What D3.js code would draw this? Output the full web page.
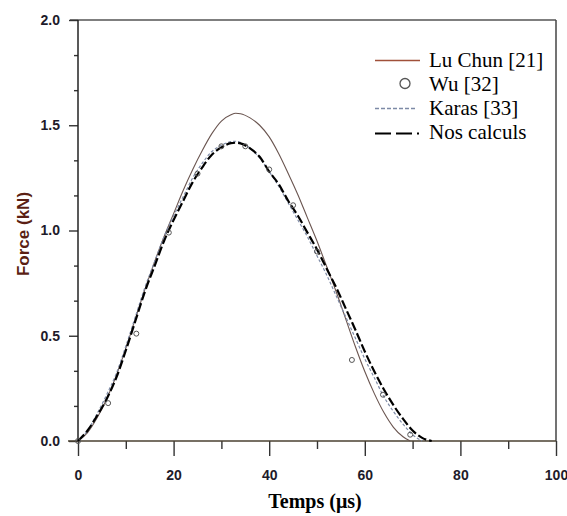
<!DOCTYPE html>
<html>
<head>
<meta charset="utf-8">
<script src="https://cdn.jsdelivr.net/npm/d3@7"></script>
<style>
  body { margin: 0; background: #fff; }
  svg { display: block; }
</style>
</head>
<body>
<svg id="canvas" width="567" height="516"></svg>
<script>
// values (temps in µs, force in kN)
const luChunT = [0, 2, 4, 6, 8, 10, 12, 14, 16, 18, 20, 22, 24, 26, 28, 30, 32, 33, 34, 36, 38, 40, 42, 44, 46, 48, 50, 52, 54, 56, 58, 60, 62, 64, 66, 68, 69.5];
const luChunF = [0, 0.04, 0.11, 0.20, 0.31, 0.44, 0.58, 0.72, 0.85, 0.97, 1.08, 1.19, 1.29, 1.38, 1.46, 1.52, 1.55, 1.557, 1.555, 1.535, 1.50, 1.445, 1.365, 1.27, 1.17, 1.06, 0.95, 0.83, 0.71, 0.58, 0.45, 0.33, 0.225, 0.135, 0.065, 0.02, 0];

const nosT = [0, 2, 4, 6, 8, 10, 12, 14, 16, 18, 20, 22, 24, 26, 28, 30, 32, 33, 34, 36, 38, 40, 42, 44, 46, 48, 50, 52, 54, 56, 58, 60, 62, 64, 66, 68, 70, 72, 74];
const nosF = [0, 0.05, 0.12, 0.20, 0.30, 0.43, 0.57, 0.71, 0.83, 0.95, 1.05, 1.14, 1.23, 1.30, 1.36, 1.395, 1.415, 1.417, 1.414, 1.39, 1.35, 1.28, 1.22, 1.14, 1.07, 0.99, 0.91, 0.82, 0.73, 0.63, 0.53, 0.425, 0.33, 0.245, 0.17, 0.105, 0.05, 0.015, 0];

const karasT = [0, 2, 4, 6, 8, 10, 12, 14, 16, 18, 20, 22, 24, 26, 28, 30, 32, 33, 34, 36, 38, 40, 42, 44, 46, 48, 50, 52, 54, 56, 58, 60, 62, 64, 66, 68, 70, 72];
const karasF = [0, 0.05, 0.13, 0.22, 0.32, 0.45, 0.59, 0.73, 0.85, 0.97, 1.07, 1.16, 1.25, 1.32, 1.375, 1.405, 1.422, 1.424, 1.418, 1.39, 1.345, 1.28, 1.21, 1.13, 1.05, 0.97, 0.88, 0.79, 0.69, 0.59, 0.49, 0.39, 0.30, 0.21, 0.14, 0.08, 0.03, 0];

const wuT = [0, 6.3, 12.2, 19, 25, 30, 35, 40, 45, 50, 57.3, 63.8, 69.5];
const wuF = [0, 0.18, 0.51, 0.99, 1.27, 1.40, 1.40, 1.29, 1.12, 0.90, 0.385, 0.22, 0.03];

const xMajor = [0, 20, 40, 60, 80, 100];
const xMinor = [10, 30, 50, 70, 90];
const yMajor = [0, 0.5, 1.0, 1.5, 2.0];
const yMinor = [1/6, 2/6, 4/6, 5/6, 7/6, 8/6, 10/6, 11/6];

const legendNames = ["Lu Chun [21]", "Wu [32]", "Karas [33]", "Nos calculs"];

const svg = d3.select("#canvas");
const x = d3.scaleLinear().domain([0, 100]).range([78, 556]);
const y = d3.scaleLinear().domain([0, 2]).range([441, 20]);

const axisColor = "#333";
const luColor = "#6a5550";
const karasColor = "#7d8aa6";

// frame: top and right
svg.append("line").attr("x1", x(0) - 8).attr("x2", x(100)).attr("y1", y(2)).attr("y2", y(2))
  .attr("stroke", "#555").attr("stroke-width", 1.3);
svg.append("line").attr("x1", x(100)).attr("x2", x(100)).attr("y1", y(2)).attr("y2", y(0))
  .attr("stroke", "#444").attr("stroke-width", 1.5);

// axes
const styleAxis = (g) => {
  g.selectAll("path").remove();
  g.selectAll("line").attr("stroke", axisColor).attr("stroke-width", 1.4);
  g.selectAll("text").attr("font-family", "Liberation Sans, Arial, sans-serif")
    .attr("font-weight", "bold").attr("font-size", 14).attr("fill", "#1e1b2a");
};

svg.append("g").attr("transform", `translate(0,${y(0)})`)
  .call(d3.axisBottom(x).tickValues(xMajor).tickSize(15).tickPadding(14).tickFormat(d3.format("d")))
  .call(styleAxis);
svg.append("g").attr("transform", `translate(0,${y(0)})`)
  .call(d3.axisBottom(x).tickValues(xMinor).tickSize(8).tickFormat(""))
  .call(styleAxis);
svg.append("g").attr("transform", `translate(${x(0)},0)`)
  .call(d3.axisLeft(y).tickValues(yMajor).tickSize(9).tickPadding(9).tickFormat(d3.format(".1f")))
  .call(styleAxis);
svg.append("g").attr("transform", `translate(${x(0)},0)`)
  .call(d3.axisLeft(y).tickValues(yMinor).tickSize(4).tickFormat(""))
  .call(styleAxis);

// axis lines
svg.append("line").attr("x1", x(0) - 10).attr("x2", x(100)).attr("y1", y(0)).attr("y2", y(0))
  .attr("stroke", "#4a4030").attr("stroke-width", 1.5);
svg.append("line").attr("x1", x(0)).attr("x2", x(0)).attr("y1", y(2)).attr("y2", y(0))
  .attr("stroke", "#222").attr("stroke-width", 1.5);

// axis titles
svg.append("text").attr("x", 315).attr("y", 508).attr("text-anchor", "middle")
  .attr("font-family", "Liberation Serif, Times New Roman, serif").attr("font-weight", "bold")
  .attr("font-size", 20).attr("fill", "#000").text("Temps (\u03bcs)");
svg.append("text").attr("transform", "translate(29,234) rotate(-90)").attr("text-anchor", "middle")
  .attr("font-family", "Liberation Sans, Arial, sans-serif").attr("font-weight", "bold")
  .attr("font-size", 17).attr("fill", "#5b1f14").text("Force (kN)");

// curves
const line = d3.line().x((d) => x(d[0])).y((d) => y(d[1])).curve(d3.curveMonotoneX);
const zip = (a, b) => a.map((v, i) => [v, b[i]]);

svg.append("path").datum(zip(luChunT, luChunF)).attr("d", line)
  .attr("fill", "none").attr("stroke", luColor).attr("stroke-width", 1.1);
svg.append("path").datum(zip(karasT, karasF)).attr("d", line)
  .attr("fill", "none").attr("stroke", karasColor).attr("stroke-width", 1.2).attr("stroke-dasharray", "3,2");
svg.append("path").datum(zip(nosT, nosF)).attr("d", line)
  .attr("fill", "none").attr("stroke", "#000").attr("stroke-width", 2.2).attr("stroke-dasharray", "9,3");

svg.selectAll("circle.wu").data(zip(wuT, wuF)).enter().append("circle")
  .attr("class", "wu").attr("cx", (d) => x(d[0])).attr("cy", (d) => y(d[1])).attr("r", 2.5)
  .attr("fill", "none").attr("stroke", "#555").attr("stroke-width", 1);

// legend
const legend = svg.append("g");
const baselines = [66.5, 90.5, 114.5, 138.5];
legend.selectAll("text").data(legendNames).enter().append("text")
  .attr("x", 429).attr("y", (d, i) => baselines[i])
  .attr("font-family", "Liberation Serif, Times New Roman, serif").attr("font-size", 21)
  .attr("fill", "#000").text((d) => d);

legend.append("line").attr("x1", 375).attr("x2", 420).attr("y1", baselines[0] - 6).attr("y2", baselines[0] - 6)
  .attr("stroke", "#a0503a").attr("stroke-width", 1.6);
legend.append("circle").attr("cx", 405).attr("cy", baselines[1] - 7).attr("r", 5)
  .attr("fill", "none").attr("stroke", "#555").attr("stroke-width", 1.3);
legend.append("line").attr("x1", 375).attr("x2", 415).attr("y1", baselines[2] - 6).attr("y2", baselines[2] - 6)
  .attr("stroke", karasColor).attr("stroke-width", 1.3).attr("stroke-dasharray", "4,2");
legend.append("line").attr("x1", 375).attr("x2", 425).attr("y1", baselines[3] - 5).attr("y2", baselines[3] - 5)
  .attr("stroke", "#000").attr("stroke-width", 2).attr("stroke-dasharray", "16,5,16,5,2,40");
</script>
</body>
</html>
